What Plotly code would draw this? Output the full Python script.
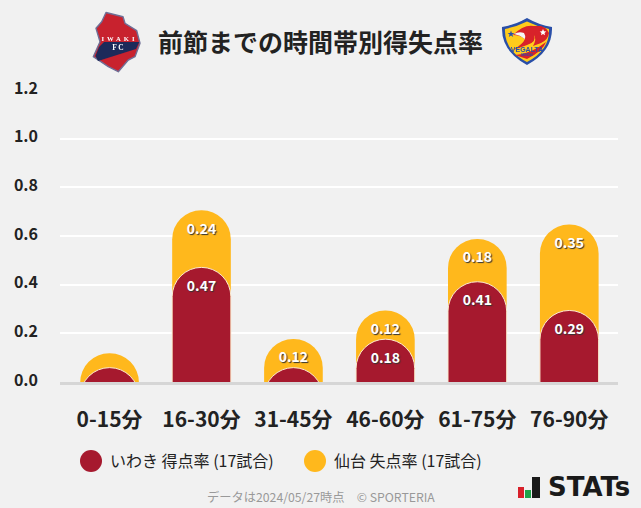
import base64
import plotly.graph_objects as go

categories = ["0-15分", "16-30分", "31-45分", "46-60分", "61-75分", "76-90分"]
iwaki_for = [0.059, 0.471, 0.059, 0.176, 0.412, 0.294]
sendai_against = [0.059, 0.235, 0.118, 0.118, 0.176, 0.353]
iwaki_labels = ["", "0.47", "", "0.18", "0.41", "0.29"]
sendai_labels = ["", "0.24", "0.12", "0.12", "0.18", "0.35"]
y_ticks = [0, 0.2, 0.4, 0.6, 0.8, 1.0, 1.2]
y_tick_labels = ["0.0", "0.2", "0.4", "0.6", "0.8", "1.0", "1.2"]

RED = "#A6192E"
YEL = "#FFB81C"
BG = "#F1F1F1"
FONT = "'Noto Sans CJK JP', 'Noto Sans', sans-serif"
W, H = 641, 508
L, R, T, B = 60, 23, 90, 126
PW, PH = W - L - R, H - T - B
BELOW = 0.3  # bars start below the axis and are clipped there, so short bars keep a round dome

stack_tops = [a + b for a, b in zip(iwaki_for, sendai_against)]
SHADOW = "1px 1px 1px #333333"

def svg_uri(svg):
    return "data:image/svg+xml;base64," + base64.b64encode(svg.encode()).decode()

def px(x):
    return (x - L) / PW

def py(y):
    return 1 - (y - T) / PH

BLUR = "<defs><filter id='b'><feGaussianBlur stdDeviation='0.35'/></filter></defs>"

iwaki_svg = f"""<svg xmlns='http://www.w3.org/2000/svg' viewBox='0 0 50 62'>{BLUR}<g filter='url(#b)'>
<path d='M14 1.5 L31 5.7 L33 12.3 L44.7 19.7 L48 32.3 L43 45.7 L36.3 49 L26.3 60.7 L16.3 55.7 L1.3 45.7 L8 30.7 L4 17.3 L9.7 10.7 Z' fill='#C8202F' stroke='#6f6f96' stroke-width='1.4' stroke-linejoin='round'/>
<path d='M12 31 L47.3 31 L44 38 L6 50 L3.5 45 L7 36 Z' fill='#1E2A5A'/>
<text x='26' y='29.5' font-size='6.6' font-family='Liberation Serif' font-weight='bold' text-anchor='middle' fill='#fff' textLength='33'>IWAKI</text>
<text x='26' y='39' font-size='7.5' font-family='Liberation Serif' font-weight='bold' text-anchor='middle' fill='#fff'>F C</text>
</g></svg>"""

vegalta_svg = f"""<svg xmlns='http://www.w3.org/2000/svg' viewBox='0 0 52 47'>{BLUR}<g filter='url(#b)'>
<path d='M1 9 Q14 7 26 0 Q38 7 51 9 Q52 33 26 47 Q0 33 1 9 Z' fill='#2A4FA8'/>
<path d='M4 11 Q15 9 26 3.5 Q37 9 48 11 Q49 32 26 44 Q3 32 4 11 Z' fill='#FFCB1F'/>
<path d='M12 17 Q23 6 33 8 L40 8 Q46 10 48 15 Q47 22 40 25 L32 28 Q36 21 33 17 Q36 24 26 27 L12 32 Q22 26 24 21 Q19 17 12 17 Z' fill='#D8202A'/>
<path d='M13 16 Q18 13 23 15 Q25 18 24 21 Q19 17 13 16 Z' fill='#F5F5F5'/>
<path d='M14 37 Q30 36 45 24 Q42 33 26 41 Z' fill='#D8202A'/>
<circle cx='42' cy='14' r='4.2' fill='#D8202A'/>
<path d='M42 11 L43 13.3 L45.3 13.5 L43.5 15 L44 17.3 L42 16 L40 17.3 L40.5 15 L38.7 13.5 L41 13.3 Z' fill='#fff'/>
<path d='M10 12.5 L10.9 15 L13.4 15 L11.4 16.5 L12.2 19 L10 17.5 L7.8 19 L8.6 16.5 L6.6 15 L9.1 15 Z' fill='#2A4FA8'/>
<text x='26' y='33.5' font-size='7' font-family='Liberation Sans' font-weight='bold' text-anchor='middle' fill='#2A4FA8'>VEGALTA</text>
<text x='26' y='37.5' font-size='3.2' font-family='Liberation Sans' font-weight='bold' text-anchor='middle' fill='#2A4FA8'>SENDAI</text>
</g></svg>"""

stats_mark_svg = """<svg xmlns='http://www.w3.org/2000/svg' viewBox='0 0 22 21'>
<rect x='0' y='10' width='6' height='11' fill='#D8202A'/>
<rect x='7' y='13' width='6' height='8' fill='#1FA34A'/>
<rect x='14' y='0' width='8' height='21' fill='#1a1a1a'/>
</svg>"""

label_font = dict(color="white", size=14, family=FONT, weight="bold", shadow=SHADOW)

fig = go.Figure()
fig.add_bar(
    x=categories, y=[v + BELOW for v in stack_tops], base=-BELOW, name="仙台 失点率 (17試合)",
    marker=dict(color=YEL, line=dict(width=0), cornerradius=30),
    text=sendai_labels, textposition="inside", insidetextanchor="end",
    textangle=0, constraintext="none", textfont=label_font, hoverinfo="skip",
)
fig.add_bar(
    x=categories, y=[v + BELOW for v in iwaki_for], base=-BELOW, name="いわき 得点率 (17試合)", yaxis="y2",
    marker=dict(color=RED, line=dict(width=1, color="#FBE9D0"), cornerradius=30),
    text=iwaki_labels, textposition="inside", insidetextanchor="end",
    textangle=0, constraintext="none", textfont=label_font, hoverinfo="skip",
)

def note(x, y, text, size, color="#222222", weight="normal", anchor="left", family=FONT):
    return dict(xref="paper", yref="paper", x=px(x), y=py(y), text=text,
                showarrow=False, xanchor=anchor, yanchor="middle",
                font=dict(size=size, color=color, family=family, weight=weight))

def dot(cx, cy, r, color):
    return dict(type="circle", xref="paper", yref="paper", line=dict(width=0), fillcolor=color,
                x0=px(cx - r), x1=px(cx + r), y0=py(cy + r), y1=py(cy - r))

def pic(src, x, y, w, h):
    return dict(source=svg_uri(src), xref="paper", yref="paper", x=px(x), y=py(y),
                sizex=w / PW, sizey=h / PH, xanchor="left", yanchor="top", sizing="stretch", layer="above")

fig.update_layout(
    width=W, height=H, autosize=False,
    paper_bgcolor=BG, plot_bgcolor=BG,
    margin=dict(l=L, r=R, t=T, b=B),
    barmode="overlay", bargap=0.362,
    showlegend=False,
    font=dict(family=FONT),
    xaxis=dict(type="category", range=[-0.539, 5.53],
               tickfont=dict(size=21, color="#222222", family=FONT, weight="bold"),
               showgrid=False, showline=True, linecolor="#D6D6D6", linewidth=3, ticks="",
               ticklabelstandoff=17, fixedrange=True),
    yaxis=dict(range=[0, 1.2], tickmode="array", tickvals=y_ticks, ticktext=y_tick_labels,
               tickfont=dict(size=16, color="#222222", family=FONT, weight="bold"),
               showgrid=True, gridcolor="white", gridwidth=2, zeroline=False, ticks="",
               ticklabelstandoff=21, ticklabelshift=-2, fixedrange=True),
    yaxis2=dict(range=[0, 1.2], overlaying="y", visible=False, fixedrange=True),
    shapes=[dot(91, 461, 11, RED), dot(315, 461, 11, YEL)],
    annotations=[
        note(320.5, 41, "前節までの時間帯別得失点率", 25, weight="bold", anchor="center"),
        note(108, 460, "いわき 得点率 (17試合)", 16),
        note(332, 460, "仙台 失点率 (17試合)", 16),
        note(320.5, 497, "データは2024/05/27時点　© SPORTERIA", 12.25, color="#999999", anchor="center"),
        note(546, 487, "STATs", 26, color="#1a1a1a", weight="bold", family="'DejaVu Sans'"),
    ],
    images=[
        pic(iwaki_svg, 92, 11, 50, 62),
        pic(vegalta_svg, 501, 18, 52, 47),
        pic(stats_mark_svg, 518, 477, 22, 21),
    ],
)

fig.write_html("out.html", post_script="document.body.style.margin='0';document.body.style.background='#F1F1F1';",
               config={"displayModeBar": False})
